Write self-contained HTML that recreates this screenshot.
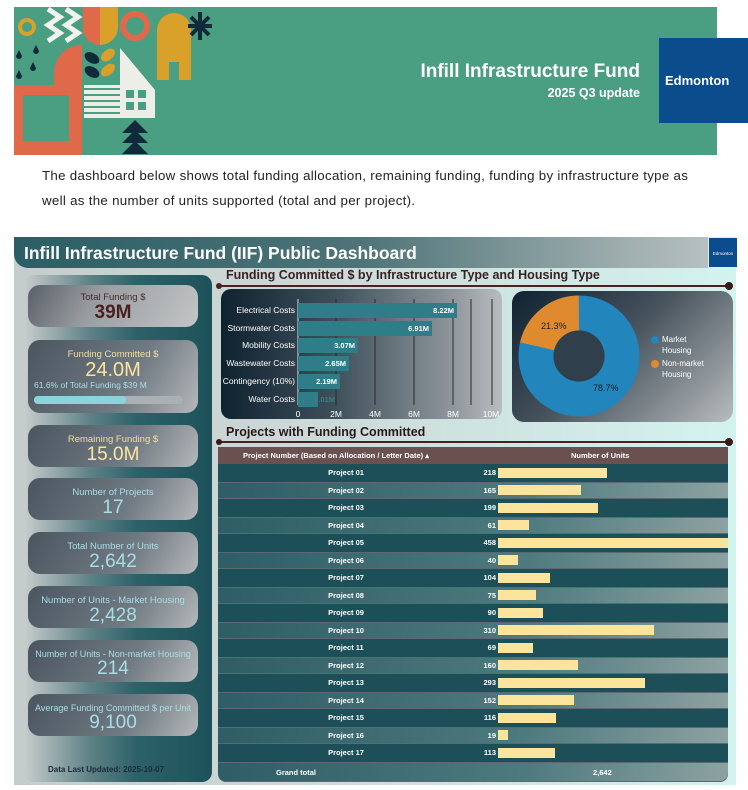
<!DOCTYPE html>
<html><head><meta charset="utf-8">
<style>
*{margin:0;padding:0;box-sizing:border-box}
body{width:748px;height:790px;background:#fff;font-family:"Liberation Sans",sans-serif;position:relative;overflow:hidden}
.abs{position:absolute}
.card{position:absolute;left:28px;width:170px;border-radius:12px;background:linear-gradient(120deg,#4a5560 0%,#707a82 60%,#b5b8bb 100%);text-align:center;color:#a8dde6}
.card .l{font-size:9.5px;margin-top:9px}
.card .v{font-size:19px;line-height:20px}
.row{position:absolute;left:218px;width:510px;height:17.5px;font-size:7.5px;color:#fff;font-weight:bold}
.row .p{position:absolute;left:0;width:256px;text-align:center;top:4px}
.row .n{position:absolute;right:232px;top:4px}
.row .b{position:absolute;left:280px;top:3.5px;height:10px;background:#fde49c}
.d{background:#1c4f58}
.e{background:linear-gradient(100deg,#2f5d66 0%,#4d7a7e 60%,#8ea2a2 100%);box-shadow:inset 0 1px 0 #5a6a70,inset 0 -1px 0 #5a6a70}
</style></head><body>
<div class="abs" style="left:14px;top:7px;width:703px;height:148px;background:#4a9f82"></div>
<svg class="abs" style="left:14px;top:7px" width="200" height="148" viewBox="14 7 200 148">
<circle cx="27" cy="27" r="9" fill="#d9a02a"/>
<circle cx="27" cy="27" r="5" fill="#4a9f82"/>
<polyline points="48,9 60,17 48,25 60,33 48,41" fill="none" stroke="#f2f2ee" stroke-width="5"/>
<polyline points="66,9 78,17 66,25 78,33 66,41" fill="none" stroke="#f2f2ee" stroke-width="5"/>
<path d="M83 7 h17 v38 a17 17 0 0 1 -17 -17z" fill="#e0694a"/>
<path d="M100 7 h18 v20 a18 18 0 0 1 -18 18z" fill="#d9a02a"/>
<circle cx="135" cy="26" r="12" fill="none" stroke="#e0694a" stroke-width="6"/>
<path d="M157 80 v-50 a17 17 0 0 1 34 0 v50 h-12 v-18 h-10 v18z" fill="#d9a02a"/>
<g stroke="#102a3a" stroke-width="4"><line x1="200" y1="12" x2="200" y2="40"/><line x1="188" y1="26" x2="212" y2="26"/><line x1="191" y1="17" x2="209" y2="35"/><line x1="209" y1="17" x2="191" y2="35"/></g>
<path d="M19 50 l3 6 a3 3 0 1 1 -6 0z M36 45 l3 6 a3 3 0 1 1 -6 0z M33 62 l3 6 a3 3 0 1 1 -6 0z M19 70 l3 6 a3 3 0 1 1 -6 0z" fill="#102a3a"/>
<path d="M14 85 h40 v-10 a28 28 0 0 1 28 -30 v110 h-68z" fill="#e0694a"/>
<rect x="23" y="95" width="46" height="46" fill="#4a9f82"/>
<ellipse cx="92" cy="58" rx="8" ry="5" fill="#102a3a" transform="rotate(30 92 58)"/>
<ellipse cx="92" cy="72" rx="8" ry="5" fill="#102a3a" transform="rotate(30 92 72)"/>
<ellipse cx="108" cy="55" rx="8" ry="5" fill="#d9a02a" transform="rotate(-40 108 55)"/>
<ellipse cx="108" cy="70" rx="8" ry="5" fill="#d9a02a" transform="rotate(-40 108 70)"/>
<path d="M120 48 L155 90 V118 H84 V85 H120z" fill="#eeeee9"/>
<g fill="#4a9f82"><rect x="84" y="88" width="36" height="2"/><rect x="84" y="94" width="36" height="2"/><rect x="84" y="100" width="36" height="2"/><rect x="84" y="106" width="36" height="2"/><rect x="84" y="112" width="36" height="2"/>
<rect x="126" y="90" width="8" height="8"/><rect x="138" y="90" width="8" height="8"/><rect x="126" y="102" width="8" height="8"/><rect x="138" y="102" width="8" height="8"/></g>
<path d="M135 120 l-13 13 h26z M135 130 l-13 13 h26z M135 141 l-13 13 h26z" fill="#102a3a"/>
</svg>
<div class="abs" style="left:360px;top:61px;width:280px;text-align:right;color:#fff;font-weight:bold;font-size:19px">Infill Infrastructure Fund</div>
<div class="abs" style="left:440px;top:86px;width:200px;text-align:right;color:#fff;font-weight:bold;font-size:12.5px">2025 Q3 update</div>
<div class="abs" style="left:659px;top:38px;width:89px;height:85px;background:#0b4c8c;color:#fff;font-weight:bold;font-size:13px;padding-top:35px;padding-left:6px">Edmonton</div>
<div class="abs" style="left:42px;top:163px;font-size:13.3px;line-height:25px;color:#222;width:700px;white-space:nowrap;letter-spacing:0.3px">The dashboard below shows total funding allocation, remaining funding, funding by infrastructure type as<br>well as the number of units supported (total and per project).</div>

<div class="abs" style="left:14px;top:237px;width:722px;height:548px;background:linear-gradient(90deg,#c5cccc 0%,#ccd9d8 40%,#d3f3ee 100%)"></div>
<div class="abs" style="left:14px;top:237px;width:694px;height:31px;border-radius:0 0 0 14px;background:linear-gradient(90deg,#2a5e66 0%,#4e7478 50%,#b8c0c0 100%);color:#fff;font-weight:bold;font-size:17.5px;padding:6px 0 0 10px">Infill Infrastructure Fund (IIF) Public Dashboard</div>
<div class="abs" style="left:709px;top:238px;width:28px;height:29px;background:#0b4c8c;color:#fff;font-size:4.5px;padding-top:13px;text-align:center">Edmonton</div>

<div class="abs" style="left:24px;top:275px;width:188px;height:507px;border-radius:10px;background:linear-gradient(90deg,#c8cccc 0%,#5e8286 35%,#2d6168 60%,#1d525a 100%)"></div>
<div class="card" style="top:285px;height:42px;background:linear-gradient(120deg,#5a6068 0%,#9a9ea2 40%,#c3c5c6 100%)"><div class="l" style="color:#4a2a2a;margin-top:7px">Total Funding $</div><div class="v" style="color:#4a2020;font-weight:bold">39M</div></div>
<div class="card" style="top:340px;height:73px"><div class="l" style="color:#f4dca0">Funding Committed $</div><div class="v" style="color:#fde49c;font-size:20px">24.0M</div><div style="font-size:8.5px;text-align:left;padding-left:6px;color:#a8dde6">61.6% of Total Funding $39 M</div><div style="margin:6px 0 0 6px;width:149px;height:8px;border-radius:4px;background:#aab0b4"><div style="width:92px;height:8px;border-radius:4px;background:#8cd4dc"></div></div></div>
<div class="card" style="top:425px;height:42px"><div class="l" style="color:#f4dca0">Remaining Funding $</div><div class="v" style="color:#fde49c">15.0M</div></div>
<div class="card" style="top:478px;height:42px"><div class="l">Number of Projects</div><div class="v">17</div></div>
<div class="card" style="top:532px;height:42px"><div class="l">Total Number of Units</div><div class="v">2,642</div></div>
<div class="card" style="top:586px;height:42px"><div class="l">Number of Units - Market Housing</div><div class="v">2,428</div></div>
<div class="card" style="top:640px;height:42px"><div class="l" style="font-size:9px">Number of Units - Non-market Housing</div><div class="v">214</div></div>
<div class="card" style="top:694px;height:42px"><div class="l" style="font-size:9px">Average Funding Committed $ per Unit</div><div class="v">9,100</div></div>
<div class="abs" style="left:48px;top:765px;font-size:8px;font-weight:bold;color:#1c2a3a">Data Last Updated: 2025-10-07</div>

<div class="abs" style="left:226px;top:268px;font-size:12.5px;font-weight:bold;color:#3a2222">Funding Committed $ by Infrastructure Type and Housing Type</div>
<div class="abs" style="left:220px;top:285px;width:508px;height:2px;background:#4a2020"></div>
<div class="abs" style="left:216px;top:283px;width:6px;height:6px;border-radius:3px;background:#4a2020"></div>
<div class="abs" style="left:725px;top:282px;width:8px;height:8px;border-radius:4px;background:#3a1818"></div>

<div class="abs" style="left:221px;top:289px;width:281px;height:130px;border-radius:10px;background:linear-gradient(90deg,#0f2230 0%,#3e4f5a 40%,#8a9298 80%,#b8bcbe 100%)"></div>
<svg class="abs" style="left:221px;top:289px" width="281" height="130">
<g stroke="#2a2a2a" stroke-width="1"><line x1="77" y1="10" x2="77" y2="116" stroke="#ddd"/><line x1="115" y1="10" x2="115" y2="116"/><line x1="154" y1="10" x2="154" y2="116"/><line x1="193" y1="10" x2="193" y2="116"/><line x1="232" y1="10" x2="232" y2="116"/><line x1="250" y1="10" x2="250" y2="116"/><line x1="271" y1="10" x2="271" y2="116"/></g>
<g fill="#2e7d88"><rect x="77" y="14" width="159" height="15"/><rect x="77" y="32" width="134" height="15"/><rect x="77" y="49" width="60" height="15"/><rect x="77" y="67" width="51" height="15"/><rect x="77" y="85" width="42" height="15"/><rect x="77" y="103" width="20" height="15"/></g>
<g font-size="7.5" font-weight="bold" fill="#fff" text-anchor="end"><text x="233" y="24">8.22M</text><text x="208" y="42">6.91M</text><text x="134" y="59">3.07M</text><text x="125" y="77">2.65M</text><text x="116" y="95">2.19M</text><text x="114" y="113" fill="#3a7f88">1.01M</text></g>
<g font-size="8.5" fill="#fff" text-anchor="end"><text x="74" y="24">Electrical Costs</text><text x="74" y="42">Stormwater Costs</text><text x="74" y="59">Mobility Costs</text><text x="74" y="77">Wastewater Costs</text><text x="74" y="95">Contingency (10%)</text><text x="74" y="113">Water Costs</text></g>
<g font-size="8.5" fill="#fff" text-anchor="middle"><text x="77" y="128">0</text><text x="115" y="128">2M</text><text x="154" y="128">4M</text><text x="193" y="128">6M</text><text x="232" y="128">8M</text><text x="270" y="128">10M</text></g>
</svg>

<div class="abs" style="left:512px;top:291px;width:221px;height:131px;border-radius:12px;background:linear-gradient(135deg,#0f2230 0%,#46525c 45%,#b8bcbe 100%)"></div>
<svg class="abs" style="left:512px;top:291px" width="221" height="131">
<circle cx="67" cy="65" r="43" fill="none" stroke="#2285bc" stroke-width="35"/>
<circle cx="67" cy="65" r="43" fill="none" stroke="#e08a30" stroke-width="35" stroke-dasharray="57.5 300" transform="rotate(-167 67 65)"/>
<circle cx="67" cy="65" r="25.5" fill="#2f3f4b"/>
<text x="29" y="38" font-size="9" fill="#222">21.3%</text>
<text x="81" y="100" font-size="9" fill="#102030">78.7%</text>
<circle cx="143" cy="49" r="4" fill="#2285bc"/><circle cx="143" cy="73" r="4" fill="#e08a30"/>
<g font-size="8" fill="#fff"><text x="150" y="51">Market</text><text x="150" y="62">Housing</text><text x="150" y="75">Non-market</text><text x="150" y="86">Housing</text></g>
</svg>

<div class="abs" style="left:226px;top:425px;font-size:12.5px;font-weight:bold;color:#2a1818">Projects with Funding Committed</div>
<div class="abs" style="left:220px;top:441px;width:508px;height:2px;background:#4a2020"></div>
<div class="abs" style="left:216px;top:439px;width:6px;height:6px;border-radius:3px;background:#3a1818"></div>
<div class="abs" style="left:725px;top:438px;width:8px;height:8px;border-radius:4px;background:#3a1818"></div>

<div class="abs" style="left:218px;top:447px;width:510px;height:17px;background:#6b5050;color:#fff;font-size:7.5px;font-weight:bold">
<span class="abs" style="left:25px;top:4px">Project Number (Based on Allocation / Letter Date) ▴</span>
<span class="abs" style="left:353px;top:4px">Number of Units</span></div>
<div class="row d" style="top:464px"><span class="p">Project 01</span><span class="n">218</span><span class="b" style="width:109px"></span></div>
<div class="row e" style="top:481.5px"><span class="p">Project 02</span><span class="n">165</span><span class="b" style="width:83px"></span></div>
<div class="row d" style="top:499px"><span class="p">Project 03</span><span class="n">199</span><span class="b" style="width:100px"></span></div>
<div class="row e" style="top:516.5px"><span class="p">Project 04</span><span class="n">61</span><span class="b" style="width:31px"></span></div>
<div class="row d" style="top:534px"><span class="p">Project 05</span><span class="n">458</span><span class="b" style="width:230px"></span></div>
<div class="row e" style="top:551.5px"><span class="p">Project 06</span><span class="n">40</span><span class="b" style="width:20px"></span></div>
<div class="row d" style="top:569px"><span class="p">Project 07</span><span class="n">104</span><span class="b" style="width:52px"></span></div>
<div class="row e" style="top:586.5px"><span class="p">Project 08</span><span class="n">75</span><span class="b" style="width:38px"></span></div>
<div class="row d" style="top:604px"><span class="p">Project 09</span><span class="n">90</span><span class="b" style="width:45px"></span></div>
<div class="row e" style="top:621.5px"><span class="p">Project 10</span><span class="n">310</span><span class="b" style="width:156px"></span></div>
<div class="row d" style="top:639px"><span class="p">Project 11</span><span class="n">69</span><span class="b" style="width:35px"></span></div>
<div class="row e" style="top:656.5px"><span class="p">Project 12</span><span class="n">160</span><span class="b" style="width:80px"></span></div>
<div class="row d" style="top:674px"><span class="p">Project 13</span><span class="n">293</span><span class="b" style="width:147px"></span></div>
<div class="row e" style="top:691.5px"><span class="p">Project 14</span><span class="n">152</span><span class="b" style="width:76px"></span></div>
<div class="row d" style="top:709px"><span class="p">Project 15</span><span class="n">116</span><span class="b" style="width:58px"></span></div>
<div class="row e" style="top:726.5px"><span class="p">Project 16</span><span class="n">19</span><span class="b" style="width:10px"></span></div>
<div class="row d" style="top:744px"><span class="p">Project 17</span><span class="n">113</span><span class="b" style="width:57px"></span></div>
<div class="row e" style="top:761.5px;height:20px;border-radius:0 0 8px 8px"><span class="p" style="left:-50px;top:6px">Grand total</span><span class="abs" style="left:375px;top:6px">2,642</span></div>
</body></html>
